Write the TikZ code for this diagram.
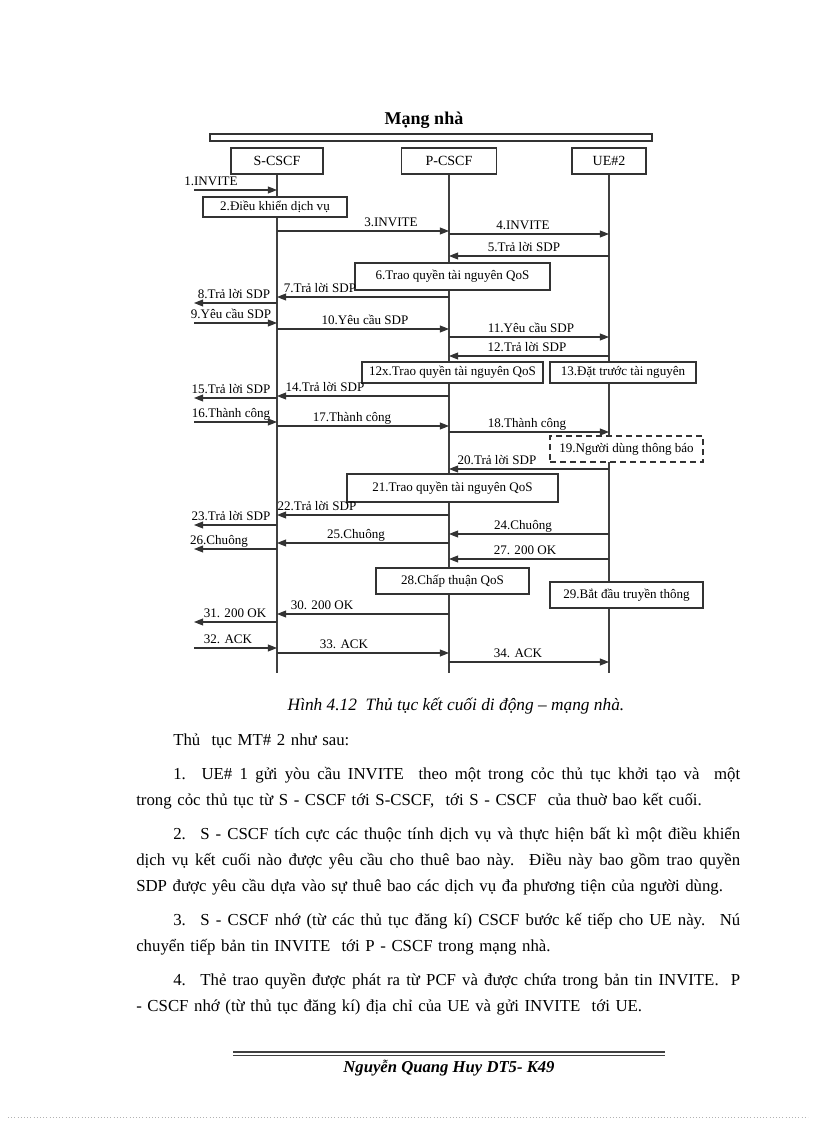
\documentclass[tikz,border=0pt]{standalone}
\usepackage{fontspec}
\setmainfont{Liberation Serif}
\usetikzlibrary{arrows.meta}

\begin{document}
\begin{tikzpicture}[x=0.75pt, y=-0.75pt,
    lane/.style={draw=black!80, line width=0.8pt, fill=white, minimum height=19.5pt, font=\fontsize{10.5}{12}\selectfont},
    box/.style={draw=black!80, line width=0.8pt, fill=white, inner sep=0pt, font=\fontsize{9.8}{11}\selectfont},
    life/.style={draw=black!75, line width=0.8pt},
    msg/.style={draw=black!80, line width=0.8pt, -{Triangle[length=6.8pt, width=5.2pt]}},
    lbl/.style={above, inner xsep=0pt, inner ysep=3pt, text depth=0pt, font=\fontsize{9.8}{11}\selectfont}]
    \fill[white] (0,0) rectangle (816,1123);
    \useasboundingbox (0,0) rectangle (816,1123);

    \node[font=\fontsize{13.5}{15}\selectfont\bfseries] (title) at (424,120) {Mạng nhà};
    \draw[black!80, line width=0.9pt] (210,134) rectangle (652,141);

    \node[lane, minimum width=69pt] (scscf) at (277,161) {S-CSCF};
    \node[lane, minimum width=71.25pt] (pcscf) at (449,161) {P-CSCF};
    \node[lane, minimum width=55.5pt] (ue) at (609,161) {UE\#2};
    \coordinate (bottom) at (0,673);
    \coordinate (outer) at (194,0);
    \draw[life] (scscf.south) -- (scscf.south |- bottom);
    \draw[life] (pcscf.south) -- (pcscf.south |- bottom);
    \draw[life] (ue.south) -- (ue.south |- bottom);

    \node[box, minimum width=108pt, minimum height=15pt] (ctrl) at (275,207) {2.Điều khiển dịch vụ};
    \node[box, minimum width=146.25pt, minimum height=20.25pt] (auth6) at (452.5,276.5) {6.Trao quyền tài nguyên QoS};
    \node[box, minimum width=135.75pt, minimum height=15.75pt] (auth12) at (452.5,372.5) {12x.Trao quyền tài nguyên QoS};
    \node[box, minimum width=109.5pt, minimum height=15.75pt] (resv) at (623,372.5) {13.Đặt trước tài nguyên};
    \node[box, minimum width=114.75pt, minimum height=19.5pt, line width=1.1pt, dash pattern=on 4.5pt off 3pt] (alert) at (626.5,449) {19.Người dùng thông báo};
    \node[box, minimum width=158.25pt, minimum height=21pt] (auth21) at (452.5,488) {21.Trao quyền tài nguyên QoS};
    \node[box, minimum width=114.75pt, minimum height=19.5pt] (qos) at (452.5,581) {28.Chấp thuận QoS};
    \node[box, minimum width=114.75pt, minimum height=19.5pt] (media) at (626.5,595) {29.Bắt đầu truyền thông};

    \node[lbl] (m1) at (211,190) {1.INVITE};
    \draw[msg] (outer |- m1.south) -- (scscf |- m1.south);
    \node[lbl] (m3) at (391,231) {3.INVITE};
    \draw[msg] (scscf |- m3.south) -- (pcscf |- m3.south);
    \node[lbl] (m4) at (523,234) {4.INVITE};
    \draw[msg] (pcscf |- m4.south) -- (ue |- m4.south);
    \node[lbl] (m5) at (524,256) {5.Trả lời SDP};
    \draw[msg] (ue |- m5.south) -- (pcscf |- m5.south);
    \node[lbl] (m7) at (320,297) {7.Trả lời SDP};
    \draw[msg] (pcscf |- m7.south) -- (scscf |- m7.south);
    \node[lbl] (m8) at (234,303) {8.Trả lời SDP};
    \draw[msg] (scscf |- m8.south) -- (outer |- m8.south);
    \node[lbl] (m9) at (231,323) {9.Yêu cầu SDP};
    \draw[msg] (outer |- m9.south) -- (scscf |- m9.south);
    \node[lbl] (m10) at (365,329) {10.Yêu cầu SDP};
    \draw[msg] (scscf |- m10.south) -- (pcscf |- m10.south);
    \node[lbl] (m11) at (531,337) {11.Yêu cầu SDP};
    \draw[msg] (pcscf |- m11.south) -- (ue |- m11.south);
    \node[lbl] (m12) at (527,356) {12.Trả lời SDP};
    \draw[msg] (ue |- m12.south) -- (pcscf |- m12.south);
    \node[lbl] (m14) at (325,396) {14.Trả lời SDP};
    \draw[msg] (pcscf |- m14.south) -- (scscf |- m14.south);
    \node[lbl] (m15) at (231,398) {15.Trả lời SDP};
    \draw[msg] (scscf |- m15.south) -- (outer |- m15.south);
    \node[lbl] (m16) at (231,422) {16.Thành công};
    \draw[msg] (outer |- m16.south) -- (scscf |- m16.south);
    \node[lbl] (m17) at (352,426) {17.Thành công};
    \draw[msg] (scscf |- m17.south) -- (pcscf |- m17.south);
    \node[lbl] (m18) at (527,432) {18.Thành công};
    \draw[msg] (pcscf |- m18.south) -- (ue |- m18.south);
    \node[lbl] (m20) at (497,469) {20.Trả lời SDP};
    \draw[msg] (ue |- m20.south) -- (pcscf |- m20.south);
    \node[lbl] (m22) at (317,515) {22.Trả lời SDP};
    \draw[msg] (pcscf |- m22.south) -- (scscf |- m22.south);
    \node[lbl] (m23) at (231,525) {23.Trả lời SDP};
    \draw[msg] (scscf |- m23.south) -- (outer |- m23.south);
    \node[lbl] (m24) at (523,534) {24.Chuông};
    \draw[msg] (ue |- m24.south) -- (pcscf |- m24.south);
    \node[lbl] (m25) at (356,543) {25.Chuông};
    \draw[msg] (pcscf |- m25.south) -- (scscf |- m25.south);
    \node[lbl] (m26) at (219,549) {26.Chuông};
    \draw[msg] (scscf |- m26.south) -- (outer |- m26.south);
    \node[lbl] (m27) at (525,559) {27. 200 OK};
    \draw[msg] (ue |- m27.south) -- (pcscf |- m27.south);
    \node[lbl] (m30) at (322,614) {30. 200 OK};
    \draw[msg] (pcscf |- m30.south) -- (scscf |- m30.south);
    \node[lbl] (m31) at (235,622) {31. 200 OK};
    \draw[msg] (scscf |- m31.south) -- (outer |- m31.south);
    \node[lbl] (m32) at (228,648) {32. ACK};
    \draw[msg] (outer |- m32.south) -- (scscf |- m32.south);
    \node[lbl] (m33) at (344,653) {33. ACK};
    \draw[msg] (scscf |- m33.south) -- (pcscf |- m33.south);
    \node[lbl] (m34) at (518,662) {34. ACK};
    \draw[msg] (pcscf |- m34.south) -- (ue |- m34.south);

    \node[font=\fontsize{13}{15}\selectfont\itshape, anchor=base] (caption) at (456,710) {Hình 4.12~ Thủ tục kết cuối di động – mạng nhà.};

    \node[text width=453pt, align=left, anchor=north west, inner sep=0pt, font=\fontsize{12.6}{19.5}\selectfont] (body) at (136,728) {
        \spaceskip=.3333em plus .5em minus .1em\relax
        \rule{0pt}{13pt}\hspace*{27.75pt}Thủ~ tục MT\# 2 như sau:\\[6pt]
        \hspace*{27.75pt}\hbox to 425.25pt{1.~ UE\# 1 gửi yòu cầu INVITE~ theo một trong cỏc thủ tục khởi tạo và~ một}\\
        trong cỏc thủ tục từ S - CSCF tới S-CSCF,~ tới S - CSCF~ của thuờ bao kết cuối.\\[6pt]
        \hspace*{27.75pt}\hbox to 425.25pt{2.~ S - CSCF tích cực các thuộc tính dịch vụ và thực hiện bất kì một điều khiển}\\
        \leavevmode\hbox to 453pt{dịch vụ kết cuối nào được yêu cầu cho thuê bao này.~ Điều này bao gồm trao quyền}\\
        SDP được yêu cầu dựa vào sự thuê bao các dịch vụ đa phương tiện của người dùng.\\[6pt]
        \hspace*{27.75pt}\hbox to 425.25pt{3.~ S - CSCF nhớ (từ các thủ tục đăng kí) CSCF bước kế tiếp cho UE này.~ Nú}\\
        chuyển tiếp bản tin INVITE~ tới P - CSCF trong mạng nhà.\\[6pt]
        \hspace*{27.75pt}\hbox to 425.25pt{4.~ Thẻ trao quyền được phát ra từ PCF và được chứa trong bản tin INVITE.~ P}\\
        - CSCF nhớ (từ thủ tục đăng kí) địa chỉ của UE và gửi INVITE~ tới UE.
    };

    \draw[black!75, line width=1.1pt] (233,1052) -- (665,1052);
    \draw[black!75, line width=0.8pt] (233,1055.5) -- (665,1055.5);
    \node[font=\fontsize{12.5}{14}\selectfont\bfseries\itshape, anchor=base] (author) at (449,1072) {Nguyễn Quang Huy DT5- K49};
    \draw[black!30, dotted] (8,1117) -- (808,1117);
\end{tikzpicture}
\end{document}
